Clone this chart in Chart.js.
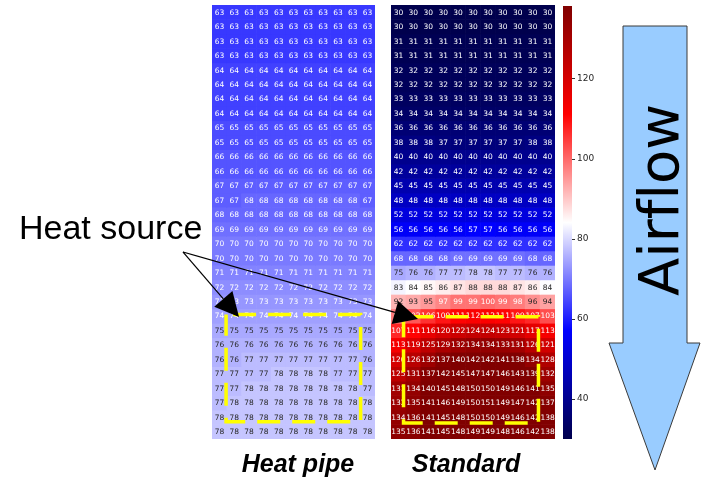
<!DOCTYPE html>
<html>
<head>
<meta charset="utf-8">
<script src="https://cdn.jsdelivr.net/npm/chart.js@4.4.1/dist/chart.umd.min.js"></script>
<style>
  html, body { margin: 0; padding: 0; background: #fff; }
  #wrap { position: relative; width: 701px; height: 479px; overflow: hidden; font-family: 'Liberation Sans', Arial, sans-serif; }
  canvas { position: absolute; }
  #hp { left: 212px; top: 5px; }
  #std { left: 391px; top: 5px; }
  #cb { left: 563px; top: 6px; }
  #overlay { position: absolute; left: 0; top: 0; }
  #airflow { font-variant-ligatures: none; font-feature-settings: "liga" 0; }
</style>
</head>
<body>
<div id="wrap">
  <canvas id="hp" width="163" height="434"></canvas>
  <canvas id="std" width="164" height="434"></canvas>
  <canvas id="cb" width="39" height="433"></canvas>
  <svg id="overlay" width="701" height="479" xmlns="http://www.w3.org/2000/svg">
    <polygon points="623,26 687,26 687,343 700,343 655,470 609,343 623,343" fill="#99ccff" stroke="#3a3a3a" stroke-width="1"/>
    <text id="airflow" transform="translate(678,200) rotate(-90)" text-anchor="middle" font-family="DejaVu Sans" font-size="56" fill="#000">Airflow</text>
    <text x="19" y="239" font-size="34" fill="#000">Heat source</text>
    <g id="pointers"></g>
    <text x="298" y="472" text-anchor="middle" font-weight="bold" font-style="italic" font-size="25">Heat pipe</text>
    <text x="466" y="472" text-anchor="middle" font-weight="bold" font-style="italic" font-size="25">Standard</text>
  </svg>
</div>
<script>
// data: temperature per cell, rows from top (inlet) to bottom
const COLUMNS = ['1', '2', '3', '4', '5', '6', '7', '8', '9', '10', '11'];

const HEAT_PIPE = [
  [63, 63, 63, 63, 63, 63, 63, 63, 63, 63, 63],
  [63, 63, 63, 63, 63, 63, 63, 63, 63, 63, 63],
  [63, 63, 63, 63, 63, 63, 63, 63, 63, 63, 63],
  [63, 63, 63, 63, 63, 63, 63, 63, 63, 63, 63],
  [64, 64, 64, 64, 64, 64, 64, 64, 64, 64, 64],
  [64, 64, 64, 64, 64, 64, 64, 64, 64, 64, 64],
  [64, 64, 64, 64, 64, 64, 64, 64, 64, 64, 64],
  [64, 64, 64, 64, 64, 64, 64, 64, 64, 64, 64],
  [65, 65, 65, 65, 65, 65, 65, 65, 65, 65, 65],
  [65, 65, 65, 65, 65, 65, 65, 65, 65, 65, 65],
  [66, 66, 66, 66, 66, 66, 66, 66, 66, 66, 66],
  [66, 66, 66, 66, 66, 66, 66, 66, 66, 66, 66],
  [67, 67, 67, 67, 67, 67, 67, 67, 67, 67, 67],
  [67, 67, 68, 68, 68, 68, 68, 68, 68, 68, 67],
  [68, 68, 68, 68, 68, 68, 68, 68, 68, 68, 68],
  [69, 69, 69, 69, 69, 69, 69, 69, 69, 69, 69],
  [70, 70, 70, 70, 70, 70, 70, 70, 70, 70, 70],
  [70, 70, 70, 70, 70, 70, 70, 70, 70, 70, 70],
  [71, 71, 71, 71, 71, 71, 71, 71, 71, 71, 71],
  [72, 72, 72, 72, 72, 72, 72, 72, 72, 72, 72],
  [73, 73, 73, 73, 73, 73, 73, 73, 73, 73, 73],
  [74, 74, 74, 74, 74, 74, 74, 74, 74, 74, 74],
  [75, 75, 75, 75, 75, 75, 75, 75, 75, 75, 75],
  [76, 76, 76, 76, 76, 76, 76, 76, 76, 76, 76],
  [76, 76, 77, 77, 77, 77, 77, 77, 77, 77, 76],
  [77, 77, 77, 77, 78, 78, 78, 78, 77, 77, 77],
  [77, 77, 78, 78, 78, 78, 78, 78, 78, 78, 77],
  [77, 78, 78, 78, 78, 78, 78, 78, 78, 78, 78],
  [78, 78, 78, 78, 78, 78, 78, 78, 78, 78, 78],
  [78, 78, 78, 78, 78, 78, 78, 78, 78, 78, 78]
];

const STANDARD = [
  [30, 30, 30, 30, 30, 30, 30, 30, 30, 30, 30],
  [30, 30, 30, 30, 30, 30, 30, 30, 30, 30, 30],
  [31, 31, 31, 31, 31, 31, 31, 31, 31, 31, 31],
  [31, 31, 31, 31, 31, 31, 31, 31, 31, 31, 31],
  [32, 32, 32, 32, 32, 32, 32, 32, 32, 32, 32],
  [32, 32, 32, 32, 32, 32, 32, 32, 32, 32, 32],
  [33, 33, 33, 33, 33, 33, 33, 33, 33, 33, 33],
  [34, 34, 34, 34, 34, 34, 34, 34, 34, 34, 34],
  [36, 36, 36, 36, 36, 36, 36, 36, 36, 36, 36],
  [38, 38, 38, 37, 37, 37, 37, 37, 37, 38, 38],
  [40, 40, 40, 40, 40, 40, 40, 40, 40, 40, 40],
  [42, 42, 42, 42, 42, 42, 42, 42, 42, 42, 42],
  [45, 45, 45, 45, 45, 45, 45, 45, 45, 45, 45],
  [48, 48, 48, 48, 48, 48, 48, 48, 48, 48, 48],
  [52, 52, 52, 52, 52, 52, 52, 52, 52, 52, 52],
  [56, 56, 56, 56, 56, 57, 57, 56, 56, 56, 56],
  [62, 62, 62, 62, 62, 62, 62, 62, 62, 62, 62],
  [68, 68, 68, 68, 69, 69, 69, 69, 69, 68, 68],
  [75, 76, 76, 77, 77, 78, 78, 77, 77, 76, 76],
  [83, 84, 85, 86, 87, 88, 88, 88, 87, 86, 84],
  [92, 93, 95, 97, 99, 99, 100, 99, 98, 96, 94],
  [98, 102, 106, 109, 111, 112, 112, 111, 109, 107, 103],
  [107, 111, 116, 120, 122, 124, 124, 123, 121, 117, 113],
  [113, 119, 125, 129, 132, 134, 134, 133, 131, 126, 121],
  [120, 126, 132, 137, 140, 142, 142, 141, 138, 134, 128],
  [125, 131, 137, 142, 145, 147, 147, 146, 143, 139, 132],
  [131, 134, 140, 145, 148, 150, 150, 149, 146, 141, 135],
  [132, 135, 141, 146, 149, 150, 151, 149, 147, 142, 137],
  [134, 136, 141, 145, 148, 150, 150, 149, 146, 142, 138],
  [135, 136, 141, 145, 148, 149, 149, 148, 146, 142, 138]
];

const CB_TICKS = [40, 60, 80, 100, 120];
const VMIN = 30;
const VMAX = 138.25;

// matplotlib "seismic" anchors
const SEISMIC = [[0, 0, 0.3], [0, 0, 1], [1, 1, 1], [1, 0, 0], [0.5, 0, 0]];

function seismic(v) {
  let t = (v - VMIN) / (VMAX - VMIN);
  t = Math.max(0, Math.min(1, t)) * 4;
  const i = Math.min(3, Math.floor(t)), f = t - i;
  const a = SEISMIC[i], b = SEISMIC[i + 1];
  return a.map((c, k) => c + (b[k] - c) * f);
}
function rgb(c) {
  return 'rgb(' + c.map(x => Math.round(x * 255)).join(',') + ')';
}
// same rule seaborn uses for annotation colour
function textColor(c) {
  const lin = c.map(x => x <= 0.03928 ? x / 12.92 : Math.pow((x + 0.055) / 1.055, 2.4));
  const lum = 0.2126 * lin[0] + 0.7152 * lin[1] + 0.0722 * lin[2];
  return lum > 0.408 ? '#262626' : '#ffffff';
}

const cellLabels = {
  id: 'cellLabels',
  afterDatasetsDraw(chart) {
    const ctx = chart.ctx;
    ctx.save();
    ctx.font = '7.5px "DejaVu Sans"';
    ctx.textAlign = 'center';
    ctx.textBaseline = 'middle';
    chart.data.datasets.forEach((ds, i) => {
      chart.getDatasetMeta(i).data.forEach((el, j) => {
        const v = ds.values[j];
        ctx.fillStyle = textColor(seismic(v));
        ctx.fillText(String(v), el.x, (el.y + el.base) / 2 + 0.5);
      });
    });
    ctx.restore();
  }
};

// yellow dashed outline of the heated zone, in cell units
function sourceBox(box) {
  return {
    id: 'sourceBox',
    afterDatasetsDraw(chart) {
      const xs = chart.scales.x, ys = chart.scales.y, ctx = chart.ctx;
      const l = xs.getPixelForValue(box.x0 - 0.5), r = xs.getPixelForValue(box.x1 - 0.5);
      const t = ys.getPixelForValue(box.y0), b = ys.getPixelForValue(box.y1);
      ctx.save();
      ctx.strokeStyle = '#ffff00';
      ctx.lineWidth = 3.5;
      ctx.setLineDash([23, 12]);
      ctx.lineDashOffset = -7;
      ctx.strokeRect(l, t, r - l, b - t);
      ctx.restore();
    }
  };
}

function heatmap(id, rows, box) {
  new Chart(document.getElementById(id), {
    type: 'bar',
    data: {
      labels: COLUMNS,
      datasets: rows.map(row => ({
        data: row.map(() => 1),
        values: row,
        backgroundColor: row.map(v => rgb(seismic(v))),
        borderWidth: 0,
        barPercentage: 1,
        categoryPercentage: 1
      }))
    },
    options: {
      responsive: false,
      animation: false,
      layout: { padding: 0 },
      plugins: { legend: { display: false }, tooltip: { enabled: false } },
      scales: {
        x: { display: false, stacked: true },
        y: { display: false, stacked: true, reverse: true, min: 0, max: rows.length }
      }
    },
    plugins: [cellLabels, sourceBox(box)]
  });
}

Chart.defaults.font.family = '"DejaVu Sans"';

heatmap('hp', HEAT_PIPE, { x0: 0.95, x1: 10.03, y0: 21.4, y1: 28.8 });
heatmap('std', STANDARD, { x0: 0.84, x1: 9.89, y0: 21.55, y1: 28.9 });

// colour bar
new Chart(document.getElementById('cb'), {
  type: 'bar',
  data: {
    labels: [''],
    datasets: [{
      data: [[VMIN, VMAX]],
      backgroundColor: (c) => {
        const area = c.chart.chartArea;
        if (!area) return null;
        const g = c.chart.ctx.createLinearGradient(0, area.bottom, 0, area.top);
        SEISMIC.forEach((s, i) => g.addColorStop(i / 4, rgb(s)));
        return g;
      },
      borderWidth: 0,
      barPercentage: 1,
      categoryPercentage: 1
    }]
  },
  options: {
    responsive: false,
    animation: false,
    layout: { padding: 0 },
    plugins: { legend: { display: false }, tooltip: { enabled: false } },
    scales: {
      x: { display: false },
      y: {
        position: 'right',
        min: VMIN,
        max: VMAX,
        afterBuildTicks: s => { s.ticks = CB_TICKS.map(v => ({ value: v })); },
        afterFit: s => { s.width = 30; s.paddingTop = 0; s.paddingBottom = 0; },
        grid: { drawOnChartArea: false, tickLength: 3, color: '#333' },
        border: { display: false },
        ticks: { padding: 2, color: '#262626', font: { size: 9 } }
      }
    }
  }
});

// "Heat source" pointers
const START = [183, 252];
const TIPS = [[239, 317], [418, 319]];
const g = document.getElementById('pointers');
TIPS.forEach(([tx, ty]) => {
  const dx = tx - START[0], dy = ty - START[1];
  const len = Math.hypot(dx, dy), ux = dx / len, uy = dy / len;
  const bx = tx - 24 * ux, by = ty - 24 * uy;
  const nx = -uy * 12, ny = ux * 12;
  g.innerHTML += `<line x1="${START[0]}" y1="${START[1]}" x2="${bx}" y2="${by}" stroke="#000" stroke-width="1.2"/>` +
    `<polygon points="${tx},${ty} ${bx + nx},${by + ny} ${bx - nx},${by - ny}" fill="#000"/>`;
});
</script>
</body>
</html>
